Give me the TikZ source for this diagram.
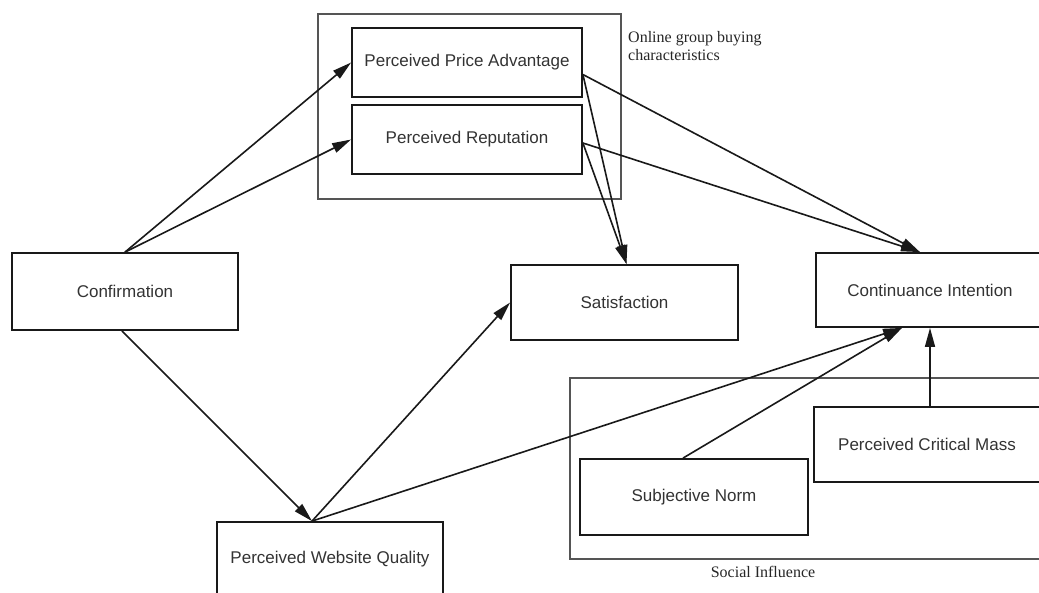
\documentclass[tikz,border=0pt]{standalone}
\usepackage{fontspec}
\setmainfont{Liberation Serif}
\newfontfamily\boxfont{Liberation Sans}
\usetikzlibrary{arrows.meta,calc}

\definecolor{inkgray}{HTML}{333333}
\definecolor{framegray}{HTML}{555555}

\tikzset{
  construct/.style={draw=black!90, line width=1.8pt, fill=white, inner sep=0pt,
    font=\boxfont\fontsize{17}{20}\selectfont, text=inkgray, align=center},
  groupframe/.style={draw=framegray, line width=1.1pt},
  grouplabel/.style={font=\fontsize{16}{18}\selectfont, text=black!85, inner sep=0pt, align=left},
  path/.style={draw=black!90, line width=1.6pt, -{Triangle[length=19pt,width=10pt]}},
  plainpath/.style={draw=black!90, line width=1.6pt}
}

\begin{document}
\begin{tikzpicture}[x=1pt, y={(0,-1pt)}]
  \useasboundingbox (0,0) rectangle (1039,592);
  \clip (0,0) rectangle (1039,592);
  \fill[white] (0,0) rectangle (1039,592);

  % grouping frames
  \draw[groupframe] (318,14) rectangle (621,199);
  \node[grouplabel, anchor=north west] (grplabel) at (628,31) {Online group buying\\characteristics};
  \draw[groupframe] (570,378) rectangle (1060,559);
  \node[grouplabel] (soclabel) at (763,572) {Social Influence};

  % constructs
  \node[construct, minimum width=230pt, minimum height=69pt] (ppa) at (467,62.5) {Perceived Price Advantage};
  \node[construct, minimum width=230pt, minimum height=69pt] (pr) at (467,139.5) {Perceived Reputation};
  \node[construct, minimum width=226pt, minimum height=77pt] (conf) at (125,291.5) {Confirmation};
  \node[construct, minimum width=227pt, minimum height=75pt] (sat) at (624.5,302.5) {Satisfaction};
  \node[construct, minimum width=228pt, minimum height=74pt] (ci) at (930,290) {Continuance Intention};
  \node[construct, minimum width=226pt, minimum height=75pt] (pcm) at (927,444.5) {Perceived Critical Mass};
  \node[construct, minimum width=228pt, minimum height=76pt] (sn) at (694,497) {Subjective Norm};
  \node[construct, minimum width=226pt, minimum height=75pt] (pwq) at (330,559.5) {Perceived Website Quality};

  % attachment points
  \coordinate (ppaout) at ($(ppa.east)+(0,12)$);
  \coordinate (prout) at ($(pr.east)+(0,3.5)$);
  \coordinate (satin) at ($(sat.north)+(2,0)$);
  \coordinate (citop) at ($(ci.north)+(-10,0)$);
  \coordinate (cibot) at ($(ci.south)+(-28,0)$);
  \coordinate (pwqtop) at ($(pwq.north)+(-18,0)$);
  \coordinate (confbot) at ($(conf.south)+(-3,0)$);
  \coordinate (sntop) at ($(sn.north)+(-11,0)$);

  % paths
  \draw[path] (conf.north) -- (ppa.west);
  \draw[path] (conf.north) -- (pr.west);
  \draw[path] (confbot) -- (pwqtop);
  \draw[path] (ppaout) -- (satin);
  \draw[path] (prout) -- (satin);
  \draw[path] (ppaout) -- (citop);
  \draw[path] (prout) -- (citop);
  \draw[path] (pwqtop) -- (sat.west);
  \draw[path] (pwqtop) -- (cibot);
  \draw[path] (sntop) -- (cibot);
  \draw[path] (ci.south |- pcm.north) -- (ci.south);
\end{tikzpicture}
\end{document}
